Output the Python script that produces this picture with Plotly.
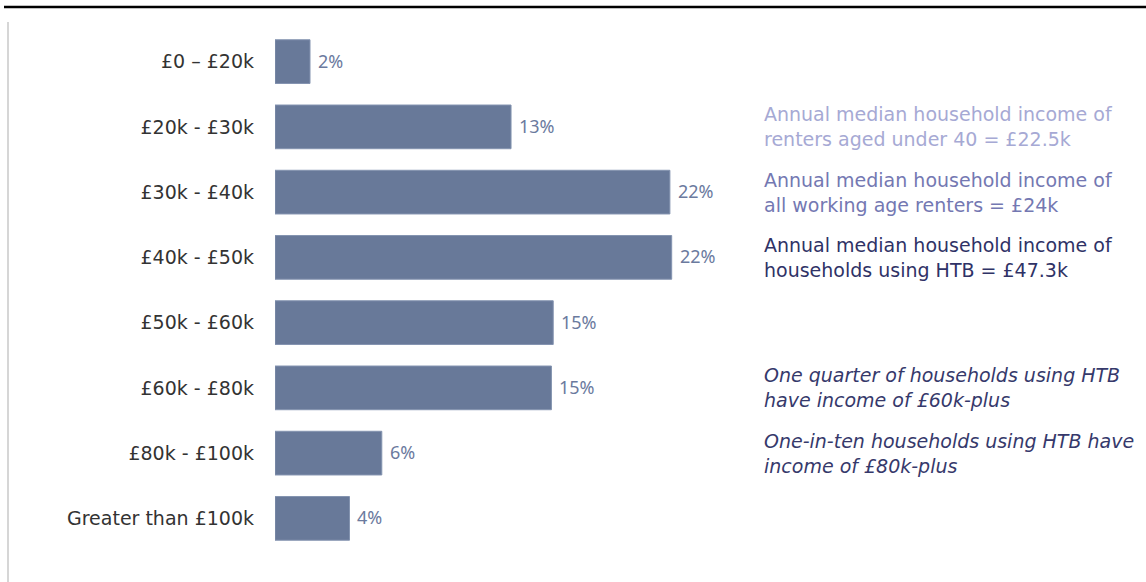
import plotly.graph_objects as go

categories = ["£0 – £20k", "£20k - £30k", "£30k - £40k", "£40k - £50k",
              "£50k - £60k", "£60k - £80k", "£80k - £100k", "Greater than £100k"]
values = [1.95, 13.15, 22.0, 22.1, 15.5, 15.4, 5.95, 4.15]
value_labels = ["2%", "13%", "22%", "22%", "15%", "15%", "6%", "4%"]

notes = [
    ("Annual median household income of<br>renters aged under 40 = £22.5k", 1, "#a6a9d4", False),
    ("Annual median household income of<br>all working age renters = £24k", 2, "#7478b2", False),
    ("Annual median household income of<br>households using HTB = £47.3k", 3, "#2f3266", False),
    ("One quarter of households using HTB<br>have income of £60k-plus", 5, "#36396b", True),
    ("One-in-ten households using HTB have<br>income of £80k-plus", 6, "#36396b", True),
]

FONT = "DejaVu Sans"
W, H = 1146, 582
L, T, B, R = 275, 29, 31, 0
pw = W - L - R
ph = H - T - B

fig = go.Figure()
fig.add_trace(go.Bar(
    x=values, y=categories, orientation="h",
    marker=dict(color="#687999", line=dict(color="#8494b0", width=1)),
    hoverinfo="skip",
))

for v, c, lab in zip(values, categories, value_labels):
    fig.add_annotation(x=v, y=c, xref="x", yref="y", text=lab, showarrow=False,
                       xanchor="left", yanchor="middle", xshift=6, yshift=1,
                       font=dict(family="Noto Sans", size=18, color="#6b7a9e"))

for txt, idx, col, ital in notes:
    t = f"<i>{txt}</i>" if ital else txt
    fig.add_annotation(x=(762 - L) / pw, y=categories[idx], xref="paper", yref="y",
                       text=t, showarrow=False, xanchor="left", yanchor="middle",
                       align="left", yshift=0,
                       font=dict(family=FONT, size=19, color=col))

# top rule and left divider
fig.add_shape(type="line", xref="paper", yref="paper",
              x0=(4 - L) / pw, x1=1.0, y0=(ph + T - 7) / ph, y1=(ph + T - 7) / ph,
              line=dict(color="#000000", width=2.5))
fig.add_shape(type="line", xref="paper", yref="paper",
              x0=(8 - L) / pw, x1=(8 - L) / pw, y0=(ph + T - 22) / ph, y1=(ph + T - 590) / ph,
              line=dict(color="#c8c8c8", width=1.5))

fig.update_layout(
    width=W, height=H,
    margin=dict(l=L, r=R, t=T, b=B),
    paper_bgcolor="white", plot_bgcolor="white",
    bargap=0.33, showlegend=False,
    xaxis=dict(range=[0, pw / 17.95], visible=False, fixedrange=True),
    yaxis=dict(autorange="reversed", showgrid=False, showline=False, zeroline=False,
               ticks="", ticklabelstandoff=20,
               tickfont=dict(family=FONT, size=19, color="#333333")),
)

fig.write_html("out.html")
